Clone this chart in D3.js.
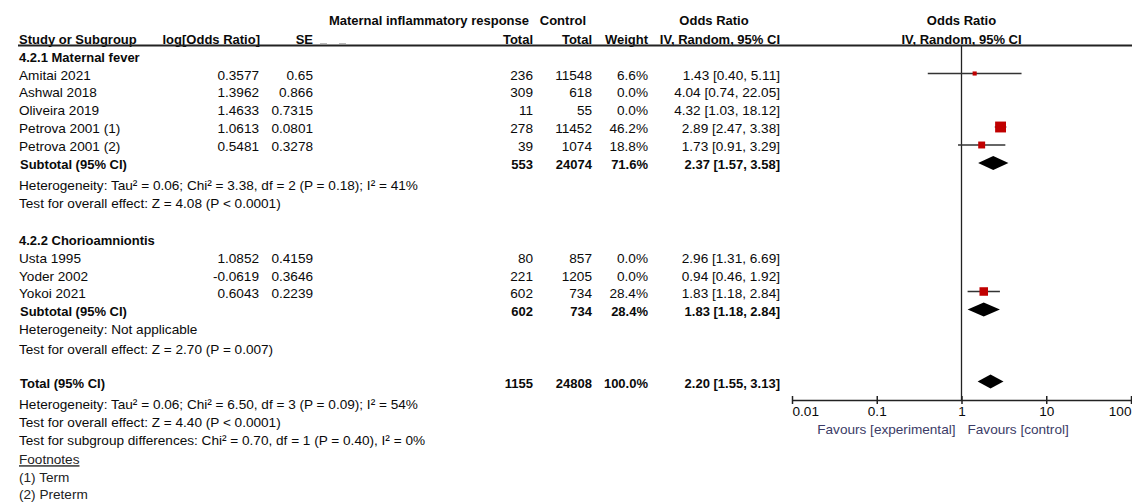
<!DOCTYPE html>
<html>
<head>
<meta charset="utf-8">
<script src="https://cdn.jsdelivr.net/npm/d3@7"></script>
<style>
  html, body { margin: 0; padding: 0; background: #fff; }
  svg { display: block; }
</style>
</head>
<body>
<div id="chart"></div>
<script>
// ---- Study-level data ----
const studyNames    = ["Amitai 2021", "Ashwal 2018", "Oliveira 2019", "Petrova 2001 (1)", "Petrova 2001 (2)", "Usta 1995", "Yoder 2002", "Yokoi 2021"];
const studyGroup    = [0, 0, 0, 0, 0, 1, 1, 1];
const logOddsRatio  = [0.3577, 1.3962, 1.4633, 1.0613, 0.5481, 1.0852, -0.0619, 0.6043];
const standardError = [0.65, 0.866, 0.7315, 0.0801, 0.3278, 0.4159, 0.3646, 0.2239];
const expTotal      = [236, 309, 11, 278, 39, 80, 221, 602];
const ctrlTotal     = [11548, 618, 55, 11452, 1074, 857, 1205, 734];
const weightPct     = [6.6, 0.0, 0.0, 46.2, 18.8, 0.0, 0.0, 28.4];
const oddsRatio     = [1.43, 4.04, 4.32, 2.89, 1.73, 2.96, 0.94, 1.83];
const ciLow         = [0.40, 0.74, 1.03, 2.47, 0.91, 1.31, 0.46, 1.18];
const ciHigh        = [5.11, 22.05, 18.12, 3.38, 3.29, 6.69, 1.92, 2.84];

// ---- Subgroup data ----
const subgroupTitles = ["4.2.1 Maternal fever", "4.2.2 Chorioamniontis"];
const subExpTotal    = [553, 602];
const subCtrlTotal   = [24074, 734];
const subWeight      = [71.6, 28.4];
const subOR          = [2.37, 1.83];
const subLow         = [1.57, 1.18];
const subHigh        = [3.58, 2.84];
const subHeterogeneity = [
  "Heterogeneity: Tau\u00B2 = 0.06; Chi\u00B2 = 3.38, df = 2 (P = 0.18); I\u00B2 = 41%",
  "Heterogeneity: Not applicable"
];
const subOverallEffect = [
  "Test for overall effect: Z = 4.08 (P < 0.0001)",
  "Test for overall effect: Z = 2.70 (P = 0.007)"
];

// ---- Overall pooled data ----
const totalCounts   = [1155, 24808];
const totalWeight   = [100.0];
const totalEstimate = [2.20, 1.55, 3.13]; // OR, lower, upper
const totalNotes = [
  "Heterogeneity: Tau\u00B2 = 0.06; Chi\u00B2 = 6.50, df = 3 (P = 0.09); I\u00B2 = 54%",
  "Test for overall effect: Z = 4.40 (P < 0.0001)",
  "Test for subgroup differences: Chi\u00B2 = 0.70, df = 1 (P = 0.40), I\u00B2 = 0%"
];
const footnotes = ["(1) Term", "(2) Preterm"];

// ---- Axis ----
const axisTicks      = [0.01, 0.1, 1, 10, 100];
const axisTickLabels = ["0.01", "0.1", "1", "10", "100"];
const favourLabels   = ["Favours [experimental]", "Favours [control]"];

// ---- Layout ----
const W = 1132, H = 502;
const FONT = "'Liberation Sans', Arial, Helvetica, sans-serif";
const TXT = "#0a0a0a";
const REG = "13.6px", BOLD = "13px";
const COL = { name: 19, logOR: 259, se: 313, exp: 533, ctrl: 592, weight: 648, ci: 780 };
const Y = {
  head1: 20.5, head2: 39.5, rule: 45.5,
  group: [57, 240],
  study: [75, 92.5, 110.5, 128.5, 146.5, 258, 276, 293],
  sub: [164.5, 311],
  het: [185, 329.5],
  eff: [203, 349],
  total: 383,
  totalNotes: [404, 422, 440],
  fnHead: 459.5,
  fn: [477.5, 494.5],
  axis: 400, tickLab: 411.5, favour: 429.5
};
const MARK_SHIFT = -1.5; // plotted marks sit slightly above the text centre line

const svg = d3.select("#chart").append("svg")
  .attr("width", W).attr("height", H)
  .style("font-family", FONT);

const x = d3.scaleLog().domain([0.01, 100]).range([792, 1131]);
const fmt2 = d3.format(".2f");
const fmtW = d => d3.format(".1f")(d) + "%";
const ciText = (o, l, h) => `${fmt2(o)} [${fmt2(l)}, ${fmt2(h)}]`;

function text(xp, yp, str, opts = {}) {
  return svg.append("text")
    .attr("x", xp).attr("y", yp).attr("dy", "0.35em")
    .attr("text-anchor", opts.anchor || "start")
    .attr("font-weight", opts.bold ? "bold" : "normal")
    .style("font-size", opts.bold ? BOLD : REG)
    .attr("fill", opts.fill || TXT)
    .text(str);
}

// ---- Column headers ----
text(529, Y.head1, "Maternal inflammatory response", { anchor: "end", bold: true });
text(586, Y.head1, "Control", { anchor: "end", bold: true });
text(714, Y.head1, "Odds Ratio", { anchor: "middle", bold: true });
text(x(1), Y.head1, "Odds Ratio", { anchor: "middle", bold: true });

text(COL.name, Y.head2, "Study or Subgroup", { bold: true });
text(COL.logOR + 1, Y.head2, "log[Odds Ratio]", { anchor: "end", bold: true });
text(COL.se, Y.head2, "SE", { anchor: "end", bold: true });
text(COL.exp, Y.head2, "Total", { anchor: "end", bold: true });
text(COL.ctrl, Y.head2, "Total", { anchor: "end", bold: true });
text(COL.weight, Y.head2, "Weight", { anchor: "end", bold: true });
text(COL.ci, Y.head2, "IV, Random, 95% CI", { anchor: "end", bold: true });
text(x(1), Y.head2, "IV, Random, 95% CI", { anchor: "middle", bold: true });

// faint placeholder dashes after the SE heading
[[320, 327], [339, 346]].forEach(([a, b]) =>
  svg.append("line").attr("x1", a).attr("x2", b).attr("y1", 43.5).attr("y2", 43.5)
    .attr("stroke", "#bbb").attr("stroke-width", 1));

// header rule
svg.append("line").attr("x1", 18).attr("x2", W).attr("y1", Y.rule).attr("y2", Y.rule)
  .attr("stroke", "#222").attr("stroke-width", 1.8);

// ---- Line of no effect ----
svg.append("line").attr("x1", x(1)).attr("x2", x(1))
  .attr("y1", Y.rule).attr("y2", Y.axis)
  .attr("stroke", "#222").attr("stroke-width", 1.3);

// ---- Subgroup headings ----
subgroupTitles.forEach((t, g) => text(COL.name, Y.group[g], t, { bold: true }));

// ---- Study rows ----
studyNames.forEach((name, i) => {
  const yy = Y.study[i];
  text(COL.name, yy, name);
  text(COL.logOR, yy, String(logOddsRatio[i]), { anchor: "end" });
  text(COL.se, yy, String(standardError[i]), { anchor: "end" });
  text(COL.exp, yy, String(expTotal[i]), { anchor: "end" });
  text(COL.ctrl, yy, String(ctrlTotal[i]), { anchor: "end" });
  text(COL.weight, yy, fmtW(weightPct[i]), { anchor: "end" });
  text(COL.ci, yy, ciText(oddsRatio[i], ciLow[i], ciHigh[i]), { anchor: "end" });

  // studies with zero weight are not plotted
  if (weightPct[i] > 0) {
    const my = yy + MARK_SHIFT;
    svg.append("line")
      .attr("x1", x(ciLow[i])).attr("x2", x(ciHigh[i]))
      .attr("y1", my).attr("y2", my)
      .attr("stroke", "#333").attr("stroke-width", 1.5);
    const s = 1.6 * Math.sqrt(weightPct[i]);
    svg.append("rect")
      .attr("x", x(oddsRatio[i]) - s / 2).attr("y", my - s / 2)
      .attr("width", s).attr("height", s)
      .attr("fill", "#c00000");
  }
});

// ---- Diamonds ----
function diamond(o, l, h, yy) {
  const hh = 7, my = yy + MARK_SHIFT;
  svg.append("path")
    .attr("d", `M${x(l)},${my}L${x(o)},${my - hh}L${x(h)},${my}L${x(o)},${my + hh}Z`)
    .attr("fill", "#000");
}

// ---- Subtotal rows ----
subgroupTitles.forEach((t, g) => {
  const yy = Y.sub[g];
  text(COL.name + 1, yy, "Subtotal (95% CI)", { bold: true });
  text(COL.exp, yy, String(subExpTotal[g]), { anchor: "end", bold: true });
  text(COL.ctrl, yy, String(subCtrlTotal[g]), { anchor: "end", bold: true });
  text(COL.weight, yy, fmtW(subWeight[g]), { anchor: "end", bold: true });
  text(COL.ci, yy, ciText(subOR[g], subLow[g], subHigh[g]), { anchor: "end", bold: true });
  diamond(subOR[g], subLow[g], subHigh[g], yy);
  text(COL.name, Y.het[g], subHeterogeneity[g]);
  text(COL.name, Y.eff[g], subOverallEffect[g]);
});

// ---- Total row ----
text(COL.name + 1, Y.total, "Total (95% CI)", { bold: true });
text(COL.exp, Y.total, String(totalCounts[0]), { anchor: "end", bold: true });
text(COL.ctrl, Y.total, String(totalCounts[1]), { anchor: "end", bold: true });
text(COL.weight, Y.total, fmtW(totalWeight[0]), { anchor: "end", bold: true });
text(COL.ci, Y.total, ciText(totalEstimate[0], totalEstimate[1], totalEstimate[2]), { anchor: "end", bold: true });
diamond(totalEstimate[0], totalEstimate[1], totalEstimate[2], Y.total);
totalNotes.forEach((t, k) => text(COL.name, Y.totalNotes[k], t));

// ---- Footnotes ----
text(COL.name, Y.fnHead, "Footnotes", { fill: "#222" }).attr("text-decoration", "underline");
footnotes.forEach((t, k) => text(COL.name, Y.fn[k], t, { fill: "#222" }));

// ---- Axis ----
const axis = d3.axisBottom(x)
  .tickValues(axisTicks)
  .tickFormat((d, i) => axisTickLabels[i])
  .tickSizeOuter(0);
const gAxis = svg.append("g").attr("transform", `translate(0,${Y.axis})`).call(axis);
gAxis.select(".domain").attr("stroke", "#222").attr("stroke-width", 1.5);
gAxis.selectAll(".tick line").attr("y1", -4).attr("y2", 4).attr("stroke", "#222").attr("stroke-width", 1.5);
gAxis.selectAll(".tick text")
  .attr("y", Y.tickLab - Y.axis).attr("dy", "0.35em")
  .attr("fill", TXT).style("font-size", REG).style("font-family", FONT)
  .attr("text-anchor", (d, i) => i === 0 ? "start" : (i === axisTicks.length - 1 ? "end" : "middle"));

text(x(1) - 6, Y.favour, favourLabels[0], { anchor: "end", fill: "#3b3b66" });
text(x(1) + 6, Y.favour, favourLabels[1], { anchor: "start", fill: "#3b3b66" });
</script>
</body>
</html>
